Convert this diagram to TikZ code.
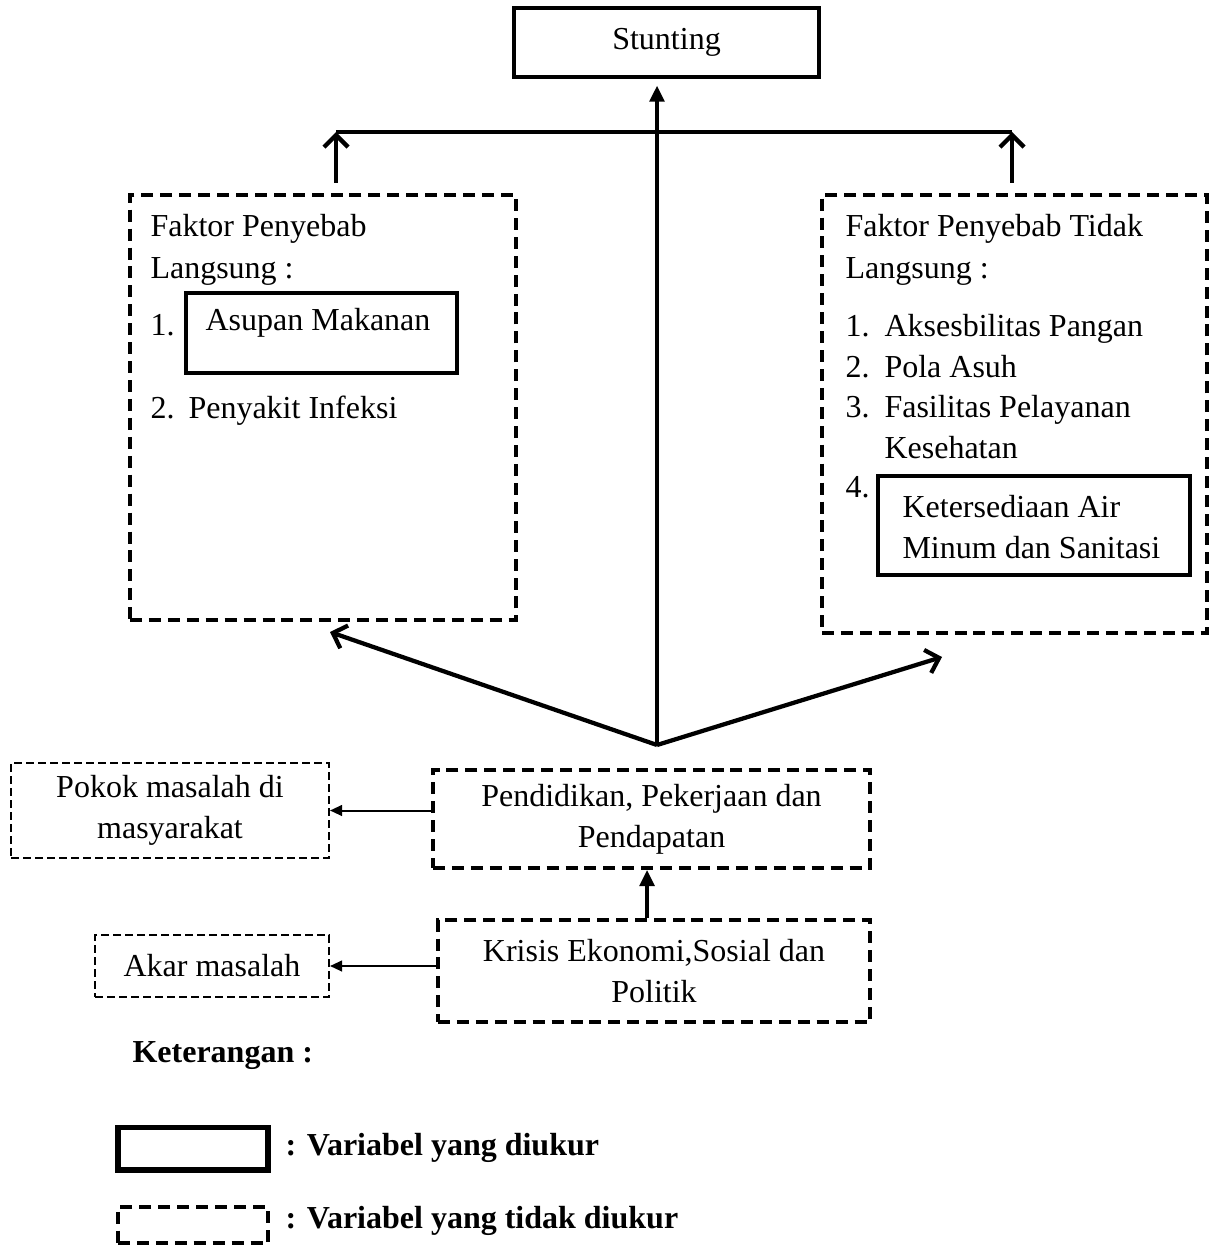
\documentclass[tikz,border=0pt]{standalone}
\usepackage{fontspec}
\setmainfont{Liberation Serif}
\usetikzlibrary{arrows.meta}
\begin{document}
\begin{tikzpicture}[x=0.375pt,y=-0.375pt,
  every node/.style={font=\fontsize{12}{15.4}\selectfont,inner sep=0pt},
  solidbox/.style={draw,line width=1.5pt,fill=white},
  thickdash/.style={draw,line width=1.5pt,dash pattern=on 4.5pt off 2.6pt},
  thindash/.style={draw,line width=0.75pt,dash pattern=on 3pt off 1.5pt},
  barb/.style={line width=1.6pt,-{Straight Barb[length=4.5pt,width=9pt]}},
  tri/.style={line width=1.3pt,-{Triangle[length=6pt,width=5.5pt]}},
  smalltri/.style={line width=0.75pt,-{Triangle[length=4.5pt,width=4pt]}}]
  \useasboundingbox (0,0) rectangle (1211,1245);
  \node[solidbox,minimum width=114.4pt,minimum height=25.9pt] (stunting) at (666.5,42.5) {Stunting};
  \node[thickdash,minimum width=144.75pt,minimum height=159.4pt] (direct) at (323,407.5) {};
  \node[thickdash,minimum width=144.4pt,minimum height=164.25pt] (indirect) at (1014.5,414) {};
  \node[thickdash,minimum width=163.9pt,minimum height=36.75pt,align=center] (pendidikan) at (651.5,819) {Pendidikan, Pekerjaan dan\\Pendapatan};
  \node[thickdash,minimum width=162pt,minimum height=38.25pt,align=center] (krisis) at (654,971) {Krisis Ekonomi,Sosial dan\\Politik};
  \node[thindash,minimum width=119.25pt,minimum height=35.6pt,align=center] (pokok) at (170,810.5) {Pokok masalah di\\masyarakat};
  \node[thindash,minimum width=87.75pt,minimum height=23.25pt] (akar) at (212,966) {Akar masalah};
  \node[anchor=base west] (dir1) at (150,236) {Faktor Penyebab};
  \node[anchor=base west] (dir2) at (150,278) {Langsung :};
  \node[anchor=base west] (dirn1) at (150,335) {1.};
  \node[solidbox,minimum width=101.6pt,minimum height=30pt] (asupan) at (321.5,333) {};
  \node (asupantxt) at (318,323) {Asupan Makanan};
  \node[anchor=base west] (dirn2) at (150,418) {2.};
  \node[anchor=base west] (dirit2) at (188,418) {Penyakit Infeksi};
  \node[anchor=base west] (ind1) at (845,236) {Faktor Penyebab Tidak};
  \node[anchor=base west] (ind2) at (845,278) {Langsung :};
  \node[anchor=base west] (indn1) at (845,336) {1.};
  \node[anchor=base west] (indit1) at (884,336) {Aksesbilitas Pangan};
  \node[anchor=base west] (indn2) at (845,377) {2.};
  \node[anchor=base west] (indit2) at (884,377) {Pola Asuh};
  \node[anchor=base west] (indn3) at (845,417) {3.};
  \node[anchor=base west] (indit3) at (884,417) {Fasilitas Pelayanan};
  \node[anchor=base west] (indit3b) at (884,458) {Kesehatan};
  \node[anchor=base west] (indn4) at (845,497) {4.};
  \node[solidbox,minimum width=117pt,minimum height=37.1pt] (air) at (1034,525.5) {};
  \node[anchor=base west] (air1) at (902,517) {Ketersediaan Air};
  \node[anchor=base west] (air2) at (902,558) {Minum dan Sanitasi};
  \coordinate (hub) at (657,745);
  \coordinate (jl) at (336,132);
  \coordinate (jr) at (1012,132);
  \coordinate (tl) at (330,632);
  \coordinate (tr) at (942,657);
  \draw[line width=1.5pt] (jl) -- (jr);
  \draw[barb,shorten <=3.75pt] (direct.north -| jl) -- (jl);
  \draw[barb,shorten <=3.75pt] (indirect.north -| jr) -- (jr);
  \draw[tri,shorten >=2.5pt] (hub) -- (hub |- stunting.south);
  \draw[barb] (hub) -- (tl);
  \draw[barb] (hub) -- (tr);
  \draw[tri] ([xshift=-2.6pt]krisis.north) -- ([xshift=-2.6pt]krisis.north |- pendidikan.south);
  \draw[smalltri] (pendidikan.west |- pokok.east) -- (pokok.east);
  \draw[smalltri] (krisis.west |- akar.east) -- (akar.east);
  \node[anchor=base west,font=\fontsize{12}{15.4}\selectfont\bfseries] (ket) at (132,1062) {Keterangan :};
  \node[draw,line width=1.9pt,minimum width=56.25pt,minimum height=16.1pt] (legsolid) at (193,1148.5) {};
  \node[thickdash,minimum width=56.25pt,minimum height=13.5pt] (legdash) at (193,1225) {};
  \node[anchor=base west,font=\fontsize{12}{15.4}\selectfont\bfseries] (legsolidtxt) at (285,1155) {: Variabel yang diukur};
  \node[anchor=base west,font=\fontsize{12}{15.4}\selectfont\bfseries] (legdashtxt) at (285,1228) {: Variabel yang tidak diukur};
\end{tikzpicture}
\end{document}
